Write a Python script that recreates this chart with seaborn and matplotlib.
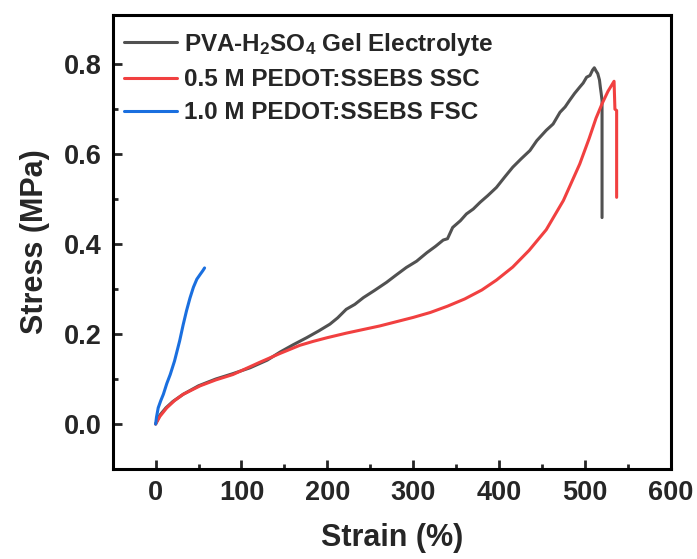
import numpy as np
import pandas as pd
import matplotlib
matplotlib.use("Agg")
import matplotlib.pyplot as plt
import seaborn as sns

# 데이터
gel_strain = [0, 5, 12, 20, 32, 50, 70, 90, 110, 130, 145, 160, 176, 190, 203, 212, 222, 232,
              242, 255, 269, 280, 292, 304, 316, 326, 335, 340, 346, 355, 362, 370, 378, 387,
              397, 407, 416, 426, 436, 444, 455, 463, 471, 477, 482, 488, 494, 498, 502, 506,
              509, 511, 513, 515, 517, 518, 519, 520, 520]
gel_stress = [0, 0.02, 0.036, 0.05, 0.066, 0.085, 0.1, 0.112, 0.125, 0.142, 0.16, 0.176, 0.192,
              0.207, 0.222, 0.236, 0.255, 0.266, 0.281, 0.297, 0.315, 0.331, 0.348, 0.362, 0.381,
              0.395, 0.409, 0.412, 0.437, 0.452, 0.467, 0.478, 0.493, 0.508, 0.526, 0.55, 0.571,
              0.59, 0.608, 0.63, 0.653, 0.667, 0.693, 0.705, 0.719, 0.735, 0.749, 0.758, 0.771,
              0.775, 0.787, 0.792, 0.785, 0.779, 0.765, 0.749, 0.735, 0.719, 0.459]

ssc_strain = [0, 5, 13, 22, 32, 52, 70, 90, 121, 145, 168, 184, 200, 222, 261, 300, 320, 340,
              360, 380, 397, 416, 435, 455, 475, 494, 505, 513, 520, 527, 534, 535, 537, 537]
ssc_stress = [0, 0.017, 0.036, 0.052, 0.066, 0.085, 0.098, 0.11, 0.137, 0.157, 0.175, 0.184,
              0.192, 0.202, 0.218, 0.237, 0.248, 0.262, 0.278, 0.298, 0.32, 0.349, 0.386, 0.432,
              0.497, 0.578, 0.635, 0.68, 0.712, 0.74, 0.762, 0.70, 0.697, 0.504]

fsc_strain = [0, 1, 3, 6, 9, 13, 17, 22, 28, 32, 36, 40, 44, 48, 52, 55, 57]
fsc_stress = [0, 0.015, 0.036, 0.052, 0.066, 0.09, 0.11, 0.14, 0.185, 0.22, 0.252, 0.28, 0.304,
              0.322, 0.333, 0.341, 0.347]

labels = ["PVA-H$_2$SO$_4$ Gel Electrolyte", "0.5 M PEDOT:SSEBS SSC", "1.0 M PEDOT:SSEBS FSC"]
colors = ["#515151", "#F14040", "#1A6FDF"]

sns.set_theme(style="ticks")
plt.rcParams["font.family"] = ["Liberation Sans", "DejaVu Sans"]
plt.rcParams["font.weight"] = "bold"
plt.rcParams["mathtext.fontset"] = "custom"
plt.rcParams["mathtext.bf"] = "Liberation Sans:bold"
plt.rcParams["mathtext.rm"] = "Liberation Sans:bold"
plt.rcParams["mathtext.default"] = "bf"

fig = plt.figure(figsize=(6.97, 5.59), dpi=100)
ax = fig.add_axes([0.1617, 0.161, 0.8006, 0.8127])

for xs, ys, lab, c in zip([gel_strain, ssc_strain, fsc_strain],
                          [gel_stress, ssc_stress, fsc_stress], labels, colors):
    df = pd.DataFrame({"x": xs, "y": ys})
    sns.lineplot(data=df, x="x", y="y", sort=False, estimator=None, color=c,
                 linewidth=2.2, label=lab, ax=ax)

ax.set_xlim(-50, 600)
ax.set_ylim(-0.1, 0.91)
ax.set_xticks([0, 100, 200, 300, 400, 500, 600])
ax.set_xticks([50, 150, 250, 350, 450, 550], minor=True)
ax.set_yticks([0.0, 0.2, 0.4, 0.6, 0.8])
ax.set_yticks([0.1, 0.3, 0.5, 0.7], minor=True)
ax.yaxis.set_major_formatter(matplotlib.ticker.FormatStrFormatter("%.1f"))

ax.tick_params(which="major", direction="in", length=6.5, width=2, labelsize=19.5,
               top=False, right=False, pad=8)
ax.tick_params(which="minor", direction="in", length=3.5, width=2, top=False, right=False)
for t in ax.get_xticklabels() + ax.get_yticklabels():
    t.set_fontweight("bold")
for sp in ax.spines.values():
    sp.set_linewidth(2.2)
    sp.set_color("black")

ax.set_xlabel("Strain (%)", fontsize=22, fontweight="bold", labelpad=12)
ax.set_ylabel("Stress (MPa)", fontsize=22, fontweight="bold", labelpad=10)

ax.legend(loc="upper left", bbox_to_anchor=(123.7 / 697, 1 - 31 / 559),
          bbox_transform=fig.transFigure, frameon=False,
          borderpad=0, borderaxespad=0, handlelength=2.2, handletextpad=0.3,
          labelspacing=0.42, prop={"weight": "bold", "size": 17.5})

fig.savefig("out.png", dpi=100)
